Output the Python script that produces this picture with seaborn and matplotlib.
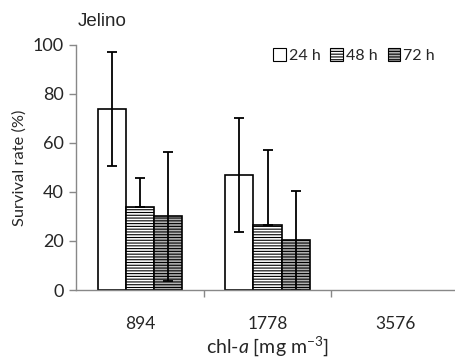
import matplotlib
matplotlib.use("Agg")
import matplotlib.pyplot as plt
import seaborn as sns
import pandas as pd
import numpy as np

categories = ["894", "1778", "3576"]
times = ["24 h", "48 h", "72 h"]
vals_24 = [74, 47, 0]
vals_48 = [34, 26.5, 0]
vals_72 = [30, 20.5, 0]
err_lo_24 = [23.5, 23.5, 0]
err_hi_24 = [23, 23, 0]
err_lo_48 = [0, 0, 0]
err_hi_48 = [11.5, 30.5, 0]
err_lo_72 = [26.5, 20.5, 0]
err_hi_72 = [26.5, 20, 0]

sns.set_style("white")
plt.rcParams['font.family'] = ['Lato', 'DejaVu Sans']
plt.rcParams['mathtext.fontset'] = 'custom'
plt.rcParams['mathtext.rm'] = 'Lato'
plt.rcParams['mathtext.it'] = 'Lato:italic'
plt.rcParams['hatch.linewidth'] = 0.8

rows = []
for t, v in zip(times, [vals_24, vals_48, vals_72]):
    for c, val in zip(categories, v):
        rows.append({"cat": c, "time": t, "val": val})
df = pd.DataFrame(rows)

fig = plt.figure(figsize=(4.56, 3.6), dpi=100)
ax = fig.add_axes([0.1667, 0.1944, 0.84, 0.681])

sns.barplot(data=df, x="cat", y="val", hue="time", order=categories, hue_order=times,
            errorbar=None, width=0.66, ax=ax, saturation=1,
            palette=["white", "white", "#b0b0b0"], edgecolor="black", linewidth=1.2)

hatches = ["", "------", "------"]
errs_lo = [err_lo_24, err_lo_48, err_lo_72]
errs_hi = [err_hi_24, err_hi_48, err_hi_72]
bar_conts = list(ax.containers)
for i, cont in enumerate(bar_conts):
    for j, p in enumerate(cont.patches):
        p.set_hatch(hatches[i])
        if cont.datavalues[j] > 0:
            xc = p.get_x() + p.get_width() / 2
            ax.errorbar(xc, p.get_height(), yerr=[[errs_lo[i][j]], [errs_hi[i][j]]],
                        fmt="none", ecolor="black", elinewidth=1.3, capsize=3.5, capthick=1.3)
        else:
            p.set_visible(False)

ax.set_ylim(0, 100)
ax.set_xlim(-0.5, 2.5)
ax.set_yticks([0, 20, 40, 60, 80, 100])
ax.set_xticks([0.5, 1.5], minor=True)
ax.tick_params(axis='x', which='major', length=0, pad=19, labelsize=12.5)
ax.tick_params(axis='x', which='minor', length=5, color='#888888', direction='out', width=1)
ax.tick_params(axis='y', length=5, color='#888888', direction='out', width=1, labelsize=13, pad=4)
ax.tick_params(axis='x', which='minor', bottom=True)
ax.tick_params(axis='y', left=True)

for s in ["top", "right"]:
    ax.spines[s].set_visible(False)
for s in ["left", "bottom"]:
    ax.spines[s].set_color("#888888")
    ax.spines[s].set_linewidth(1)

ax.set_xlabel(r'chl-$\it{a}$ [mg m$^{-3}$]', fontsize=14, labelpad=1)
ax.set_ylabel("Survival rate (%)", fontsize=11.8, labelpad=4)

leg = ax.legend(ncol=3, loc="upper right", bbox_to_anchor=(0.975, 1.045), frameon=False,
                handlelength=0.8, handleheight=0.85, handletextpad=0.2, columnspacing=0.6,
                fontsize=11.5)
for h, hatch in zip(leg.legend_handles, hatches):
    h.set_hatch(hatch)
    h.set_edgecolor("black")
    h.set_linewidth(0.8)

fig.text(0.171, 0.94, "Jelino", fontsize=13.5, family="Liberation Sans", va="center")

fig.savefig("out.png", dpi=100)
